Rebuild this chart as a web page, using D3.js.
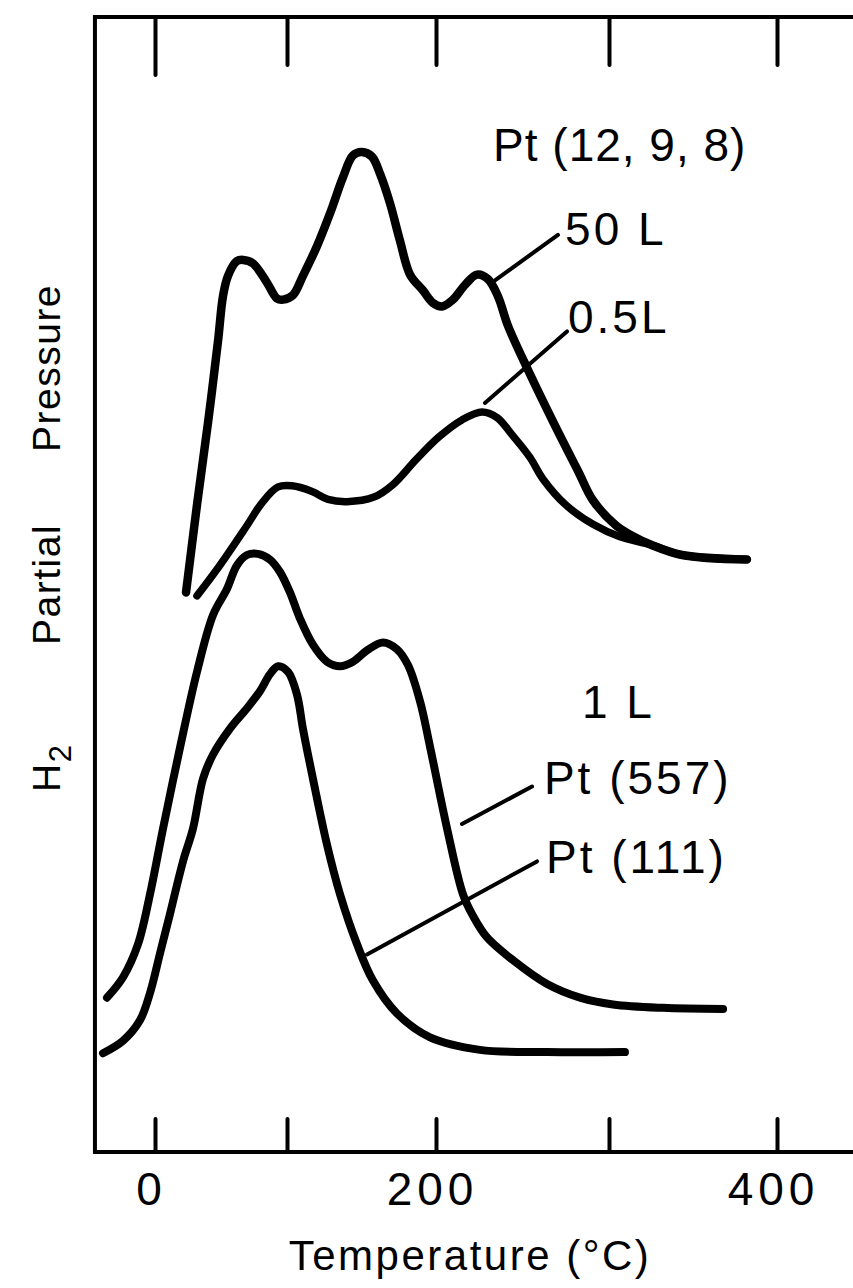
<!DOCTYPE html>
<html>
<head>
<meta charset="utf-8">
<script src="https://cdn.jsdelivr.net/npm/d3@7"></script>
<style>
  html, body { margin: 0; padding: 0; background: #fff; }
  svg { display: block; }
  text { font-family: "Liberation Sans", Arial, sans-serif; fill: #000; }
</style>
</head>
<body>
<svg id="chart" width="853" height="1288"></svg>
<script>
// temperature axis ticks (deg C)
const tickTemps = [0, 100, 200, 300, 400];
const tickLabels = ['0', '', '200', '', '400'];

// Pt(12,9,8) 50 L
const t50L = [23.5, 31.8, 40.2, 47.7, 51.5, 55.3, 62.1, 66.7, 74.2, 84.8, 92.4, 97.0, 104.0, 110.7, 120.1, 128.9, 137.6, 144.3, 150.3, 157.0, 162.4, 169.1, 175.8, 182.6, 191.3, 198.0, 203.5, 209.8, 216.8, 223.7, 230.1, 235.8, 241.6, 253.2, 268.8, 282.1, 290.8, 304.2, 313.7, 325.0, 343.5, 382.1];
const p50L = [49.3, 57.0, 64.3, 71.4, 75.4, 77.2, 78.5, 78.6, 78.3, 76.6, 75.2, 75.1, 75.5, 77.2, 79.8, 82.7, 85.9, 87.8, 88.1, 87.7, 86.2, 83.6, 80.3, 77.3, 75.9, 74.8, 74.5, 75.1, 76.4, 77.3, 76.9, 75.4, 72.8, 68.9, 64.0, 60.0, 57.4, 55.2, 54.3, 53.5, 52.6, 52.2];

// Pt(12,9,8) 0.5 L
const t05L = [31.8, 49.2, 69.7, 81.1, 93.2, 103.4, 116.8, 127.5, 140.3, 158.4, 171.1, 186.6, 201.7, 215.0, 226.6, 235.3, 243.9, 254.3, 261.8, 275.1, 290.8, 306.5, 325.0, 343.5, 382.1];
const p05L = [49.0, 51.7, 55.2, 57.2, 58.6, 58.7, 58.2, 57.5, 57.3, 57.7, 58.8, 61.0, 63.0, 64.5, 65.2, 64.7, 63.2, 61.2, 59.3, 57.0, 55.3, 54.2, 53.5, 52.6, 52.2];

// Pt(557) 1 L
const t557 = [-36.4, -24.2, -12.9, -3.8, 6.1, 18.9, 31.8, 43.9, 54.5, 62.1, 69.7, 78.0, 87.1, 94.7, 102.0, 108.7, 117.4, 126.8, 135.6, 144.3, 153.7, 164.4, 173.8, 181.2, 189.3, 196.0, 206.4, 215.6, 221.4, 229.5, 244.5, 264.2, 283.2, 302.4, 332.1, 367.9];
const p557 = [13.6, 15.4, 18.3, 22.7, 28.5, 35.6, 42.3, 47.3, 49.6, 51.7, 52.6, 52.7, 52.2, 51.1, 49.3, 47.0, 44.7, 43.2, 42.8, 43.2, 44.2, 44.9, 44.3, 42.9, 39.7, 35.7, 28.5, 22.7, 20.8, 18.9, 16.9, 14.8, 13.6, 13.0, 12.7, 12.6];

// Pt(111) 1 L
const t111 = [-39.4, -24.2, -11.4, -3.8, 3.8, 11.4, 21.2, 28.8, 36.4, 43.9, 56.8, 69.7, 79.5, 87.1, 93.2, 100.7, 106.7, 110.7, 117.4, 126.8, 135.6, 147.0, 157.7, 173.8, 196.0, 225.4, 264.2, 309.5];
const p111 = [8.7, 9.8, 11.6, 14.0, 17.5, 21.0, 25.6, 28.5, 32.9, 35.0, 37.3, 39.1, 40.6, 42.1, 42.8, 42.3, 40.3, 37.3, 32.9, 27.1, 22.7, 18.3, 15.1, 12.2, 10.1, 9.0, 8.8, 8.8];

// annotation labels and their leader lines (data units)
const labelText = ['Pt (12, 9, 8)', '50 L', '0.5L', '1 L', 'Pt (557)', 'Pt (111)'];
const labelT = [233.0, 274.6, 276.3, 284.4, 262.4, 263.6];
const labelP = [87.3, 79.9, 72.2, 38.2, 31.5, 24.6];
const leaderT = [[234.1, 270.5], [228.3, 275.7], [215.0, 255.5], [153.7, 258.4]];
const leaderP = [[76.8, 80.8], [66.0, 72.3], [28.9, 32.2], [17.4, 25.6]];

const svg = d3.select('#chart');

// the printed temperature axis is not evenly spaced
const x = d3.scaleLinear()
  .domain(tickTemps)
  .range([155, 287, 436, 609, 777]);

const y = d3.scaleLinear()
  .domain([0, 100])
  .range([1152, 17]);

const xMin = -45.5, xMax = 450;

// frame
svg.append('path')
  .attr('d', `M${x(xMax)},${y(100)} H${x(xMin)} V${y(0)} H${x(xMax)}`)
  .attr('fill', 'none')
  .attr('stroke', '#000')
  .attr('stroke-width', 4);

// axes
const xAxisBottom = d3.axisBottom(x)
  .tickValues(tickTemps)
  .tickSizeInner(-33)
  .tickSizeOuter(0)
  .tickPadding(20)
  .tickFormat((d, i) => tickLabels[i]);

const xAxisTop = d3.axisTop(x)
  .tickValues(tickTemps)
  .tickSizeInner(-48)
  .tickSizeOuter(0)
  .tickFormat('');

svg.append('g')
  .attr('transform', `translate(0, ${y(0)})`)
  .call(xAxisBottom)
  .call(g => g.select('.domain').remove())
  .call(g => g.selectAll('.tick line').attr('stroke-width', 4).attr('stroke-linecap', 'round'))
  .call(g => g.selectAll('.tick text')
    .attr('font-size', 46)
    .attr('font-family', '"Liberation Sans", Arial, sans-serif')
    .attr('letter-spacing', 5)
    .attr('dx', -4));

svg.append('g')
  .attr('transform', `translate(0, ${y(100)})`)
  .call(xAxisTop)
  .call(g => g.select('.domain').remove())
  .call(g => g.selectAll('.tick line')
    .attr('stroke-width', 4)
    .attr('stroke-linecap', 'round')
    .attr('y2', (d, i) => i === 0 ? 58 : 48));

// axis titles
svg.append('text')
  .attr('x', 470)
  .attr('y', 1270)
  .attr('text-anchor', 'middle')
  .attr('font-size', 42)
  .attr('letter-spacing', 2.5)
  .text('Temperature (°C)');

const yTitle = svg.append('g')
  .attr('transform', 'translate(60, 0) rotate(-90)')
  .append('text')
  .attr('font-size', 39)
  .attr('letter-spacing', 1.5);
yTitle.append('tspan').attr('x', -792).text('H');
yTitle.append('tspan').attr('font-size', 31).attr('dy', 11).text('2');
yTitle.append('tspan').attr('x', -645).attr('dy', -11).text('Partial');
yTitle.append('tspan').attr('x', -452).text('Pressure');

// curves
const line = d3.line()
  .x(d => x(d[0]))
  .y(d => y(d[1]))
  .curve(d3.curveCatmullRom.alpha(0.5));

const series = [
  { t: t50L, p: p50L, w: 8.5 },
  { t: t05L, p: p05L, w: 7.5 },
  { t: t557, p: p557, w: 8 },
  { t: t111, p: p111, w: 8 }
];

svg.append('g')
  .selectAll('path')
  .data(series)
  .join('path')
  .attr('d', d => line(d3.zip(d.t, d.p)))
  .attr('fill', 'none')
  .attr('stroke', '#000')
  .attr('stroke-width', d => d.w)
  .attr('stroke-linecap', 'round')
  .attr('stroke-linejoin', 'round');

// leader lines
svg.append('g')
  .selectAll('line')
  .data(d3.range(leaderT.length))
  .join('line')
  .attr('x1', i => x(leaderT[i][0]))
  .attr('y1', i => y(leaderP[i][0]))
  .attr('x2', i => x(leaderT[i][1]))
  .attr('y2', i => y(leaderP[i][1]))
  .attr('stroke', '#000')
  .attr('stroke-width', 4)
  .attr('stroke-linecap', 'round');

// labels
svg.append('g')
  .selectAll('text')
  .data(labelText)
  .join('text')
  .attr('x', (d, i) => x(labelT[i]))
  .attr('y', (d, i) => y(labelP[i]))
  .attr('font-size', 46)
  .attr('letter-spacing', (d, i) => i === 0 ? 1 : 3)
  .text(d => d);
</script>
</body>
</html>
